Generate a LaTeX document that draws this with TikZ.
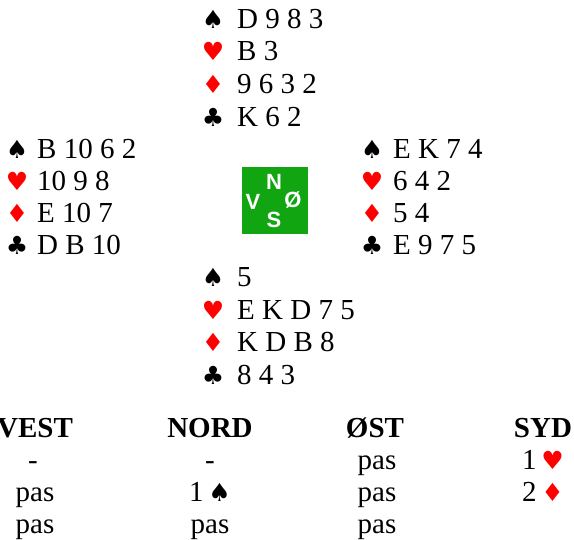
\documentclass[tikz,border=0pt]{standalone}
\usepackage{fontspec}
\setmainfont{Liberation Serif}
\newfontfamily\suitfont{DejaVu Sans}
\newfontfamily\dirfont{Liberation Sans}
\definecolor{cardred}{RGB}{255,0,0}
\definecolor{boxgreen}{RGB}{17,166,17}
\newcommand{\spd}{{\suitfont\fontsize{25}{25}\selectfont ♠}}
\newcommand{\hrt}{{\suitfont\fontsize{25}{25}\selectfont\color{cardred}♥}}
\newcommand{\dmd}{{\suitfont\fontsize{25}{25}\selectfont\color{cardred}♦}}
\newcommand{\clb}{{\suitfont\fontsize{25}{25}\selectfont ♣}}
\begin{document}
\begin{tikzpicture}[x=1pt,y=-1pt,
  txt/.style={anchor=base west,inner sep=0pt,font=\fontsize{29}{33}\selectfont},
  suit/.style={anchor=base,inner sep=0pt},
  dir/.style={inner sep=0pt,text=white,font=\dirfont\bfseries\fontsize{22}{22}\selectfont},
  head/.style={anchor=base,inner sep=0pt,font=\bfseries\fontsize{29}{33}\selectfont},
  bid/.style={anchor=base,inner sep=0pt,font=\fontsize{29}{33}\selectfont}]
\useasboundingbox (0,0) rectangle (574,540);
% North
\node[suit] (ns) at (213,29) {\spd}; \node[txt] (nst) at (237,29) {D 9 8 3};
\node[suit] (nh) at (213,61) {\hrt}; \node[txt] (nht) at (237,61) {B 3};
\node[suit] (nd) at (213,94) {\dmd}; \node[txt] (ndt) at (237,94) {9 6 3 2};
\node[suit] (nc) at (213,127) {\clb}; \node[txt] (nct) at (237,127) {K 6 2};
% West
\node[suit] (ws) at (17,159) {\spd}; \node[txt] (wst) at (37,159) {B 10 6 2};
\node[suit] (wh) at (17,191) {\hrt}; \node[txt] (wht) at (37,191) {10 9 8};
\node[suit] (wd) at (17,223) {\dmd}; \node[txt] (wdt) at (37,223) {E 10 7};
\node[suit] (wc) at (17,255) {\clb}; \node[txt] (wct) at (37,255) {D B 10};
% East
\node[suit] (es) at (372,159) {\spd}; \node[txt] (est) at (393,159) {E K 7 4};
\node[suit] (eh) at (372,191) {\hrt}; \node[txt] (eht) at (393,191) {6 4 2};
\node[suit] (ed) at (372,223) {\dmd}; \node[txt] (edt) at (393,223) {5 4};
\node[suit] (ec) at (372,255) {\clb}; \node[txt] (ect) at (393,255) {E 9 7 5};
% South
\node[suit] (ss) at (213,287) {\spd}; \node[txt] (sst) at (237,287) {5};
\node[suit] (sh) at (213,320) {\hrt}; \node[txt] (sht) at (237,320) {E K D 7 5};
\node[suit] (sd) at (213,352) {\dmd}; \node[txt] (sdt) at (237,352) {K D B 8};
\node[suit] (sc) at (213,385) {\clb}; \node[txt] (sct) at (237,385) {8 4 3};
% Compass
\node[fill=boxgreen,minimum width=66,minimum height=67,inner sep=0pt] (box) at (275,200.5) {};
\node[dir] (dn) at (274,182) {N};
\node[dir] (dv) at (253,202) {V};
\node[dir] (de) at (293,200) {Ø};
\node[dir] (dsu) at (274,220) {S};
% Auction
\node[head] (hv) at (35,438) {VEST};
\node[head] (hn) at (210,438) {NORD};
\node[head] (he) at (375,438) {ØST};
\node[head] (hs) at (543,438) {SYD};
\node[bid] (b1) at (33,470) {-};
\node[bid] (b2) at (210,470) {-};
\node[bid] (b3) at (377,470) {pas};
\node[bid] (b4) at (543,470) {1\,\hrt};
\node[bid] (b5) at (35,502) {pas};
\node[bid] (b6) at (210,502) {1\,\spd};
\node[bid] (b7) at (377,502) {pas};
\node[bid] (b8) at (543,502) {2\,\dmd};
\node[bid] (b9) at (35,534) {pas};
\node[bid] (b10) at (210,534) {pas};
\node[bid] (b11) at (377,534) {pas};
\end{tikzpicture}
\end{document}
